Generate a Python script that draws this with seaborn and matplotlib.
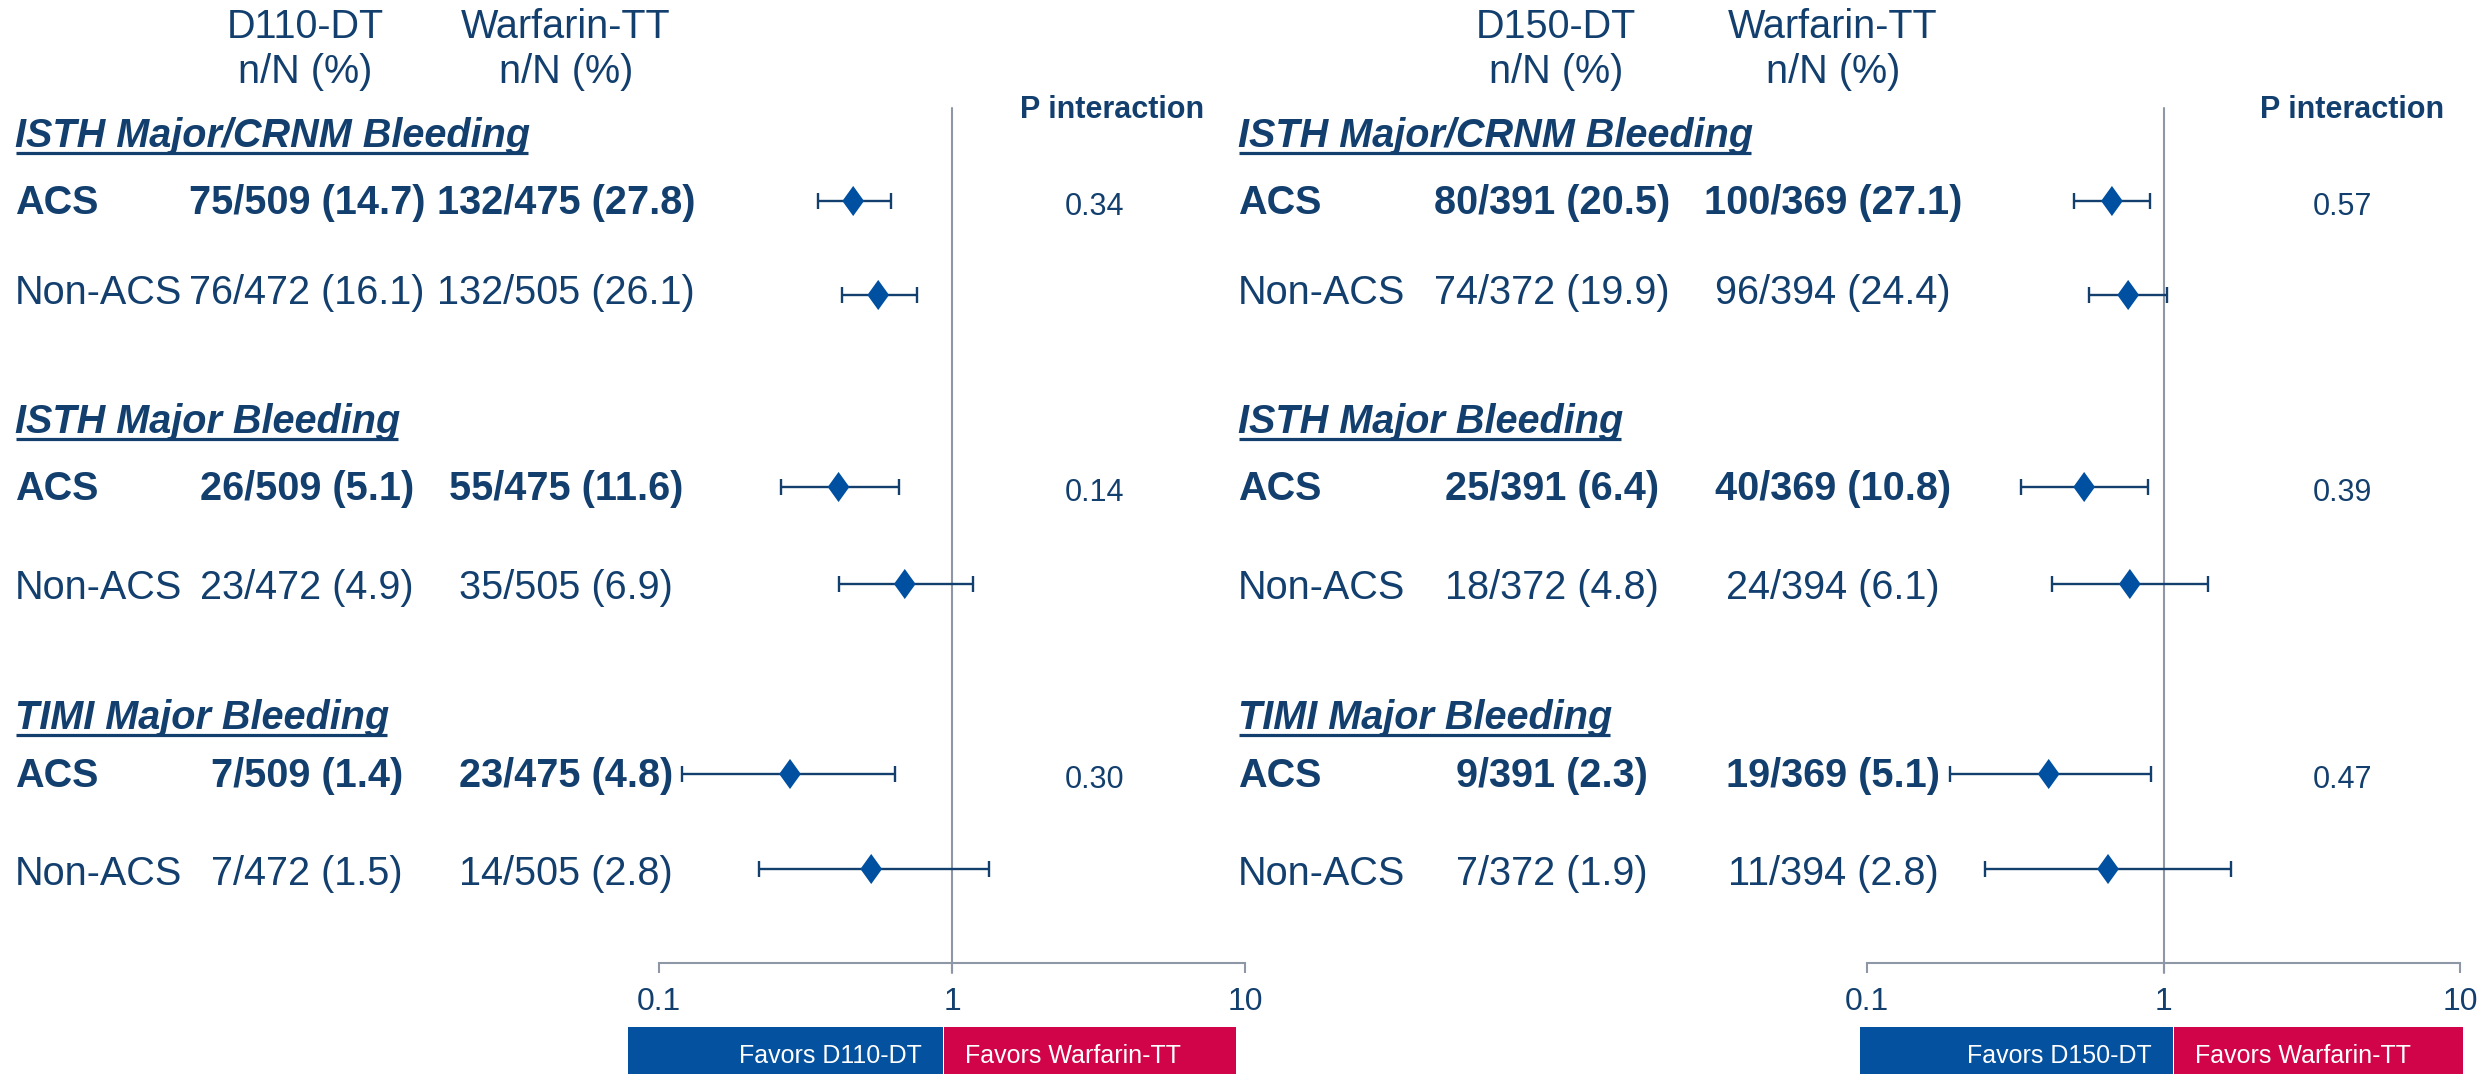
import numpy as np
import pandas as pd
import matplotlib
matplotlib.use("Agg")
import matplotlib.pyplot as plt
from matplotlib.path import Path
from matplotlib.patches import Rectangle
from matplotlib import font_manager
import seaborn as sns

# ---------------- data ----------------
outcomes = ["ISTH Major/CRNM Bleeding", "ISTH Major Bleeding", "TIMI Major Bleeding"]
subgroups = ["ACS", "Non-ACS"]

# left panel: dabigatran 110 mg dual therapy vs warfarin triple therapy
left_drug = "D110-DT"
left_drug_counts = ["75/509 (14.7)", "76/472 (16.1)", "26/509 (5.1)",
                    "23/472 (4.9)", "7/509 (1.4)", "7/472 (1.5)"]
left_warf_counts = ["132/475 (27.8)", "132/505 (26.1)", "55/475 (11.6)",
                    "35/505 (6.9)", "23/475 (4.8)", "14/505 (2.8)"]
left_hr = [0.46, 0.56, 0.41, 0.69, 0.28, 0.53]
left_lo = [0.35, 0.42, 0.26, 0.41, 0.12, 0.22]
left_hi = [0.62, 0.76, 0.66, 1.18, 0.64, 1.34]
left_p = ["0.34", "0.14", "0.30"]

# right panel: dabigatran 150 mg dual therapy vs warfarin triple therapy
right_drug = "D150-DT"
right_drug_counts = ["80/391 (20.5)", "74/372 (19.9)", "25/391 (6.4)",
                     "18/372 (4.8)", "9/391 (2.3)", "7/372 (1.9)"]
right_warf_counts = ["100/369 (27.1)", "96/394 (24.4)", "40/369 (10.8)",
                     "24/394 (6.1)", "19/369 (5.1)", "11/394 (2.8)"]
right_hr = [0.67, 0.76, 0.54, 0.77, 0.41, 0.65]
right_lo = [0.50, 0.56, 0.33, 0.42, 0.19, 0.25]
right_hi = [0.90, 1.03, 0.89, 1.41, 0.91, 1.69]
right_p = ["0.57", "0.39", "0.47"]

x_ticks = [0.1, 1, 10]
x_tick_labels = ["0.1", "1", "10"]

# ---------------- style ----------------
W, H = 2491, 1074
NAVY = "#123F6E"
DIAMOND = "#0050A2"
GRAY = "#8D97A6"
BLUE_BOX = "#04519F"
RED_BOX = "#D1044A"

sns.set_theme(style="white")
plt.rcParams["font.family"] = ["Liberation Sans", "DejaVu Sans"]
available = {f.name for f in font_manager.fontManager.ttflist}
NARROW = "Liberation Sans Narrow" if "Liberation Sans Narrow" in available else "Liberation Sans"
narrow_size = 21 if NARROW == "Liberation Sans Narrow" else 18

# vertical layout (figure pixels from the top)
title_y = [147, 433, 729]          # outcome title baselines
row_y = [201, 295, 487, 584, 774, 869]   # row centres
row_base = [214, 304, 500, 599, 787, 885]  # text baselines
axis_top, axis_bottom = 108, 963

fig = plt.figure(figsize=(W / 100, H / 100), dpi=100)
over = fig.add_axes([0, 0, 1, 1])
over.set_xlim(0, W)
over.set_ylim(H, 0)
over.axis("off")

diamond = Path([(0, 1), (0.72, 0), (0, -1), (-0.72, 0), (0, 1)],
               [Path.MOVETO, Path.LINETO, Path.LINETO, Path.LINETO, Path.CLOSEPOLY])

panels = [
    dict(drug=left_drug, dc=left_drug_counts, wc=left_warf_counts, hr=left_hr,
         lo=left_lo, hi=left_hi, p=left_p, label_x=15, c1=307, c2=566,
         h1=305, h2=566, pint=1112, pval=1095, ax_x=(659, 1245),
         box=(628, 943, 1236)),
    dict(drug=right_drug, dc=right_drug_counts, wc=right_warf_counts, hr=right_hr,
         lo=right_lo, hi=right_hi, p=right_p, label_x=1238, c1=1552, c2=1833,
         h1=1556, h2=1833, pint=2352, pval=2342, ax_x=(1867, 2460),
         box=(1860, 2173, 2463)),
]

titles = []
for pn in panels:
    # column headers
    for cx, top in ((pn["h1"], pn["drug"]), (pn["h2"], "Warfarin-TT")):
        over.text(cx, 38, top, ha="center", va="baseline", fontsize=28.5, color=NAVY)
        over.text(cx, 83, "n/N (%)", ha="center", va="baseline", fontsize=28.5, color=NAVY)
    over.text(pn["pint"], 118, "P interaction", ha="center", va="baseline",
              fontsize=22, fontweight="bold", color=NAVY)

    # outcome titles, subgroup rows and interaction p-values
    for g, name in enumerate(outcomes):
        t = over.text(pn["label_x"], title_y[g], name, ha="left", va="baseline",
                      fontsize=28.5, fontweight="bold", fontstyle="italic", color=NAVY)
        titles.append((t, title_y[g]))
        over.text(pn["pval"], row_base[2 * g] + 1, pn["p"][g], ha="center",
                  va="baseline", fontsize=22, color=NAVY)
        for s, sub in enumerate(subgroups):
            i = 2 * g + s
            w = "bold" if sub == "ACS" else "normal"
            over.text(pn["label_x"], row_base[i], sub, ha="left", va="baseline",
                      fontsize=28.5, fontweight=w, color=NAVY)
            over.text(pn["c1"], row_base[i], pn["dc"][i], ha="center", va="baseline",
                      fontsize=28.5, fontweight=w, color=NAVY)
            over.text(pn["c2"], row_base[i], pn["wc"][i], ha="center", va="baseline",
                      fontsize=28.5, fontweight=w, color=NAVY)

    # favours bar under the axis
    b0, bm, b1 = pn["box"]
    over.add_patch(Rectangle((b0, 1027), bm - b0, H - 1027, color=BLUE_BOX, lw=0))
    over.add_patch(Rectangle((bm + 1, 1027), b1 - bm - 1, H - 1027, color=RED_BOX, lw=0))
    over.text(bm - 21, 1063, f"Favors {pn['drug']}", ha="right", va="baseline",
              fontsize=narrow_size, color="white", family=NARROW)
    over.text(bm + 22, 1063, "Favors Warfarin-TT", ha="left", va="baseline",
              fontsize=narrow_size, color="white", family=NARROW)

    # forest plot axes (log hazard-ratio scale)
    x0, x1 = pn["ax_x"]
    ax = fig.add_axes([x0 / W, 1 - axis_bottom / H, (x1 - x0) / W,
                       (axis_bottom - axis_top) / H])
    ax.patch.set_visible(False)
    df = pd.DataFrame({"hr": pn["hr"], "lo": pn["lo"], "hi": pn["hi"], "row": row_y})
    ax.errorbar(df["hr"], df["row"],
                xerr=[df["hr"] - df["lo"], df["hi"] - df["hr"]],
                fmt="none", ecolor=NAVY, elinewidth=1.7, capsize=5.5,
                capthick=1.7, zorder=2)
    sns.scatterplot(data=df, x="hr", y="row", marker=diamond, s=470,
                    color=DIAMOND, edgecolor="none", legend=False, ax=ax, zorder=3)
    ax.set_xscale("log")
    ax.set_xlim(0.1, 10)
    ax.set_ylim(axis_bottom, axis_top)
    ax.axvline(1, ymin=-10 / (axis_bottom - axis_top), ymax=1, color=GRAY,
               lw=1.5, clip_on=False, zorder=1)
    ax.set_xticks(x_ticks)
    ax.set_xticklabels(x_tick_labels)
    ax.minorticks_off()
    ax.set_yticks([])
    ax.set_xlabel("")
    ax.set_ylabel("")
    for side in ("top", "left", "right"):
        ax.spines[side].set_visible(False)
    ax.spines["bottom"].set_color(GRAY)
    ax.spines["bottom"].set_linewidth(1.5)
    ax.tick_params(axis="x", direction="out", length=7, width=1.5, color=GRAY,
                   labelsize=23, labelcolor=NAVY, pad=10, bottom=True)

# underline the outcome titles
fig.canvas.draw()
renderer = fig.canvas.get_renderer()
inv = over.transData.inverted()
for t, base in titles:
    bb = t.get_window_extent(renderer)
    (ux0, _), (ux1, _) = inv.transform([(bb.x0, bb.y0), (bb.x1, bb.y0)])
    over.plot([ux0 + 1, ux1 - 2], [base + 6, base + 6], color=NAVY, lw=2.3,
              solid_capstyle="butt")

fig.savefig("out.png", dpi=100)
